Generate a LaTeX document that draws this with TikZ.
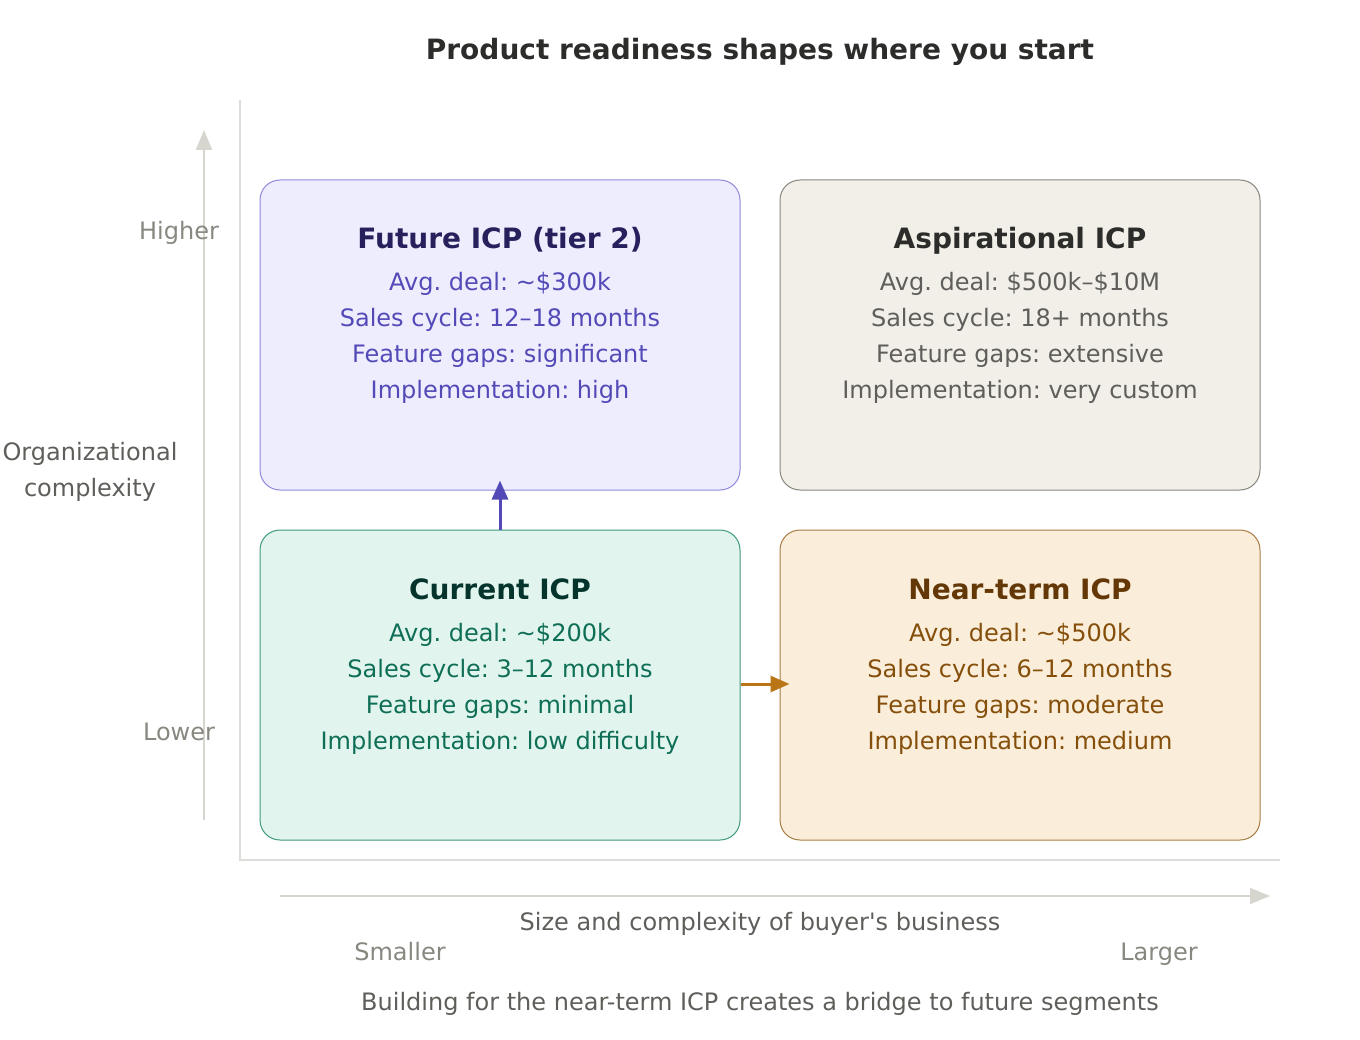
\documentclass[tikz,border=0pt]{standalone}
\usepackage{fontspec}
\setmainfont{DejaVu Sans}
\frenchspacing
\usetikzlibrary{arrows.meta}
\definecolor{futfill}{HTML}{EEEDFE}
\definecolor{futdraw}{HTML}{8F88DD}
\definecolor{futtitle}{HTML}{26215C}
\definecolor{futtext}{HTML}{534AB7}
\definecolor{aspfill}{HTML}{F1EFE8}
\definecolor{aspdraw}{HTML}{888780}
\definecolor{asptitle}{HTML}{2C2C2A}
\definecolor{asptext}{HTML}{5F5E5A}
\definecolor{curfill}{HTML}{E1F5EE}
\definecolor{curdraw}{HTML}{3F9A80}
\definecolor{curtitle}{HTML}{04342C}
\definecolor{curtext}{HTML}{0F6E56}
\definecolor{nearfill}{HTML}{FAEEDA}
\definecolor{neardraw}{HTML}{A87B45}
\definecolor{neartitle}{HTML}{633806}
\definecolor{neartext}{HTML}{854F0B}
\definecolor{neararrow}{HTML}{BA7517}
\definecolor{framegray}{HTML}{DDDDDA}
\definecolor{axisgray}{HTML}{D6D5CE}
\definecolor{labelgray}{HTML}{888780}

\tikzset{
  icpbox/.style args={#1/#2}{fill=#1, draw=#2, line width=1pt, rounded corners=20pt,
    minimum width=480pt, minimum height=310pt, inner sep=0pt},
  boxtitle/.style={anchor=base, font=\bfseries\fontsize{28}{34}\selectfont, text=#1, inner sep=0pt},
  boxline/.style={anchor=base, font=\fontsize{24}{29}\selectfont, text=#1, inner sep=0pt},
  plaintext/.style={anchor=base, font=\fontsize{24}{29}\selectfont, text=#1, inner sep=0pt},
  moveto/.style={line width=3pt, -{Triangle[length=19pt, width=16pt]}, shorten >=-10pt}
}

\begin{document}
\begin{tikzpicture}[x=1pt, y=-1pt]
  \useasboundingbox (0,0) rectangle (1360,1040);

  % Title
  \node[boxtitle=asptitle] (title) at (760,60) {Product readiness shapes where you start};

  % Frame of the grid
  \coordinate (frametop) at (240,100);
  \coordinate (framecorner) at (240,860);
  \coordinate (frameright) at (1280,860);
  \draw[framegray, line width=2pt] (frametop) -- (framecorner) -- (frameright);

  % Axis arrows
  \coordinate (ybottom) at (204,820);
  \coordinate (ytop) at (204,130);
  \coordinate (xleft) at (280,896);
  \coordinate (xright) at (1270,896);
  \draw[axisgray, line width=2pt, -{Triangle[length=20pt, width=16pt]}] (ybottom) -- (ytop);
  \draw[axisgray, line width=2pt, -{Triangle[length=20pt, width=16pt]}] (xleft) -- (xright);

  % Quadrants
  \node[icpbox=futfill/futdraw] (future) at (500,335) {};
  \node[icpbox=aspfill/aspdraw] (aspir) at (1020,335) {};
  \node[icpbox=curfill/curdraw] (current) at (500,685) {};
  \node[icpbox=nearfill/neardraw] (nearterm) at (1020,685) {};

  % Future ICP
  \node[boxtitle=futtitle] (futurehead) at (500,249) {Future ICP (tier 2)};
  \foreach \txt [count=\i] in {Avg. deal: \textasciitilde\$300k, Sales cycle: 12–18 months,
      Feature gaps: significant, Implementation: high}
    \node[boxline=futtext] (futureline\i) at (500,{291+36*(\i-1)}) {\txt};

  % Aspirational ICP
  \node[boxtitle=asptitle] (aspirhead) at (1020,249) {Aspirational ICP};
  \foreach \txt [count=\i] in {Avg. deal: \$500k–\$10M, Sales cycle: 18+ months,
      Feature gaps: extensive, Implementation: very custom}
    \node[boxline=asptext] (aspirline\i) at (1020,{291+36*(\i-1)}) {\txt};

  % Current ICP
  \node[boxtitle=curtitle] (currenthead) at (500,599) {Current ICP};
  \foreach \txt [count=\i] in {Avg. deal: \textasciitilde\$200k, Sales cycle: 3–12 months,
      Feature gaps: minimal, Implementation: low difficulty}
    \node[boxline=curtext] (currentline\i) at (500,{641+36*(\i-1)}) {\txt};

  % Near-term ICP
  \node[boxtitle=neartitle] (nearhead) at (1020,599) {Near-term ICP};
  \foreach \txt [count=\i] in {Avg. deal: \textasciitilde\$500k, Sales cycle: 6–12 months,
      Feature gaps: moderate, Implementation: medium}
    \node[boxline=neartext] (nearline\i) at (1020,{641+36*(\i-1)}) {\txt};

  % Moves between segments
  \draw[moveto, futtext] (current.north) -- (future.south);
  \draw[moveto, neararrow] (current.east |- 0,684) -- (nearterm.west |- 0,684);

  % Axis labels
  \node[plaintext=labelgray] (higher) at (179,240) {Higher};
  \node[plaintext=labelgray] (lower) at (179,740) {Lower};
  \node[plaintext=asptext] (orglabel1) at (90,460) {Organizational};
  \node[plaintext=asptext] (orglabel2) at (90,496) {complexity};
  \node[plaintext=asptext] (sizelabel) at (760,930) {Size and complexity of buyer\textquotesingle s business};
  \node[plaintext=labelgray] (smaller) at (400,960) {Smaller};
  \node[plaintext=labelgray] (larger) at (1159,960) {Larger};

  % Caption
  \node[plaintext=asptext] (caption) at (760,1010) {Building for the near-term ICP creates a bridge to future segments};
\end{tikzpicture}
\end{document}
